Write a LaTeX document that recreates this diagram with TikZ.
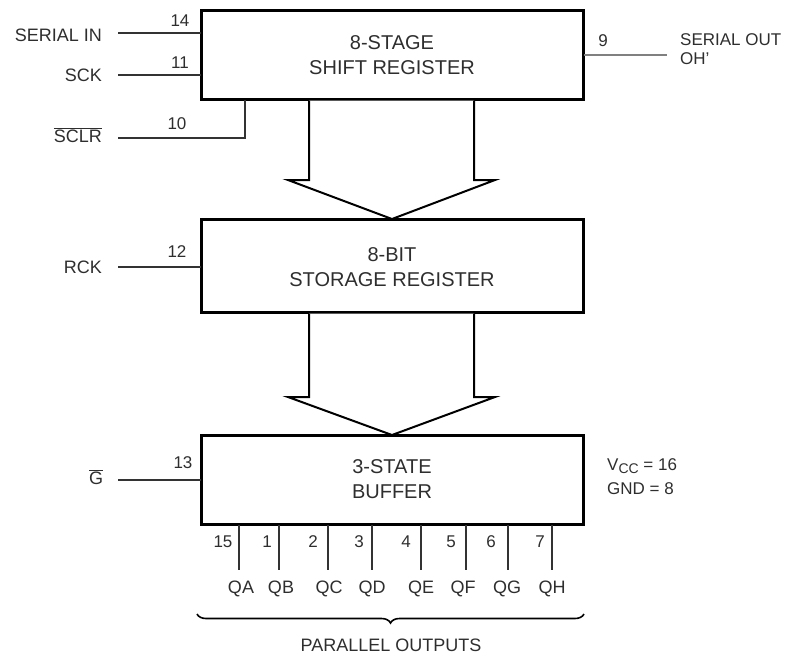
\documentclass[tikz,border=0pt]{standalone}
\usepackage{fontspec}
\setmainfont{Liberation Sans}
\usetikzlibrary{decorations.pathreplacing}
\definecolor{txt}{HTML}{2E2E2E}
\definecolor{pin}{HTML}{333333}
\begin{document}
\begin{tikzpicture}[x=1pt,y=-1pt,
  lbl/.style={text=txt,inner sep=0pt,font=\fontsize{18}{20}\selectfont},
  num/.style={lbl,font=\fontsize{17}{20}\selectfont},
  boxtxt/.style={lbl,align=center,font=\fontsize{20}{25}\selectfont},
  blk/.style={draw=black,line width=3pt},
  pinline/.style={draw=pin,line width=1.4pt},
  bigarrow/.style={draw=black,line width=2pt,fill=white,line join=miter}]
\useasboundingbox (0,0) rectangle (790,657);
% boxes
\draw[blk] (201,10) rectangle (583,99);
\draw[blk] (201,219) rectangle (583,312);
\draw[blk] (201,435) rectangle (583,524);
\node[boxtxt] (t1) at (392,55) {8-STAGE\\SHIFT REGISTER};
\node[boxtxt] (t2) at (392,267) {8-BIT\\STORAGE REGISTER};
\node[boxtxt] (t3) at (392,479) {3-STATE\\BUFFER};
% big arrows
\draw[bigarrow] (309,100.5) -- (309,180) -- (288,180) -- (392,219) -- (495,180) -- (474,180) -- (474,100.5);
\draw[bigarrow] (309,313.5) -- (309,397) -- (288,397) -- (392,435) -- (495,397) -- (474,397) -- (474,313.5);
% left inputs
\coordinate (si) at (118,33); \coordinate (sie) at (201,33);
\draw[pinline] (si) -- (sie);
\node[lbl,anchor=east] (lsi) at (102,35) {SERIAL IN};
\node[num] (n14) at (180,21) {14};
\coordinate (sck) at (118,75); \coordinate (scke) at (201,75);
\draw[pinline] (sck) -- (scke);
\node[lbl,anchor=east] (lsck) at (102,75) {SCK};
\node[num] (n11) at (180,63) {11};
\coordinate (sclr) at (118,138); \coordinate (sclrc) at (245,138); \coordinate (sclre) at (245,100);
\draw[pinline] (sclr) -- (sclrc) -- (sclre);
\node[lbl,anchor=east] (lsclr) at (102,135) {$\overline{\mbox{SCLR}\vphantom{I}}$};
\node[num] (n10) at (177,124) {10};
\coordinate (rck) at (118,267); \coordinate (rcke) at (201,267);
\draw[pinline] (rck) -- (rcke);
\node[lbl,anchor=east] (lrck) at (102,267) {RCK};
\node[num] (n12) at (177,252) {12};
\coordinate (g) at (118,480); \coordinate (ge) at (201,480);
\draw[pinline] (g) -- (ge);
\node[lbl] (lg) at (96,477) {$\overline{\mbox{G}\vphantom{I}}$};
\node[num] (n13) at (183,463) {13};
% serial out
\coordinate (so) at (584,55); \coordinate (soe) at (667,55);
\draw[pinline,draw=gray] (so) -- (soe);
\node[num] (n9) at (603,41) {9};
\node[lbl,anchor=west,align=left,font=\fontsize{17}{19}\selectfont] (lso) at (680,49) {SERIAL OUT\\OH'};
% vcc
\node[lbl,anchor=west,align=left,font=\fontsize{17}{20}\selectfont] (vcc) at (607,466) {V\raisebox{-3.5pt}{\fontsize{14}{14}\selectfont CC} = 16};
\node[lbl,anchor=west,align=left,font=\fontsize{17}{20}\selectfont] (gnd) at (607,489) {GND = 8};
% outputs
\foreach \x/\n/\nx/\q/\qx in {239/15/223/QA/241, 279/1/267/QB/281, 328/2/313/QC/329, 372/3/359/QD/372, 421/4/406/QE/421, 466/5/451/QF/463, 508/6/491/QG/507, 552/7/540/QH/552}{
  \coordinate (p\q) at (\x,525);
  \coordinate (e\q) at (\x,570);
  \draw[pinline] (p\q) -- (e\q);
  \node[num] (n\q) at (\nx,542) {\n};
  \node[lbl] (l\q) at (\qx,589) {\q};
}
% brace
\coordinate (br1) at (197,614); \coordinate (br2) at (584,614);
\draw[draw=black,line width=1.6pt,decorate,decoration={brace,mirror,amplitude=9pt}] (br1) -- (br2);
\node[lbl] (par) at (391,645) {PARALLEL OUTPUTS};
\end{tikzpicture}
\end{document}
